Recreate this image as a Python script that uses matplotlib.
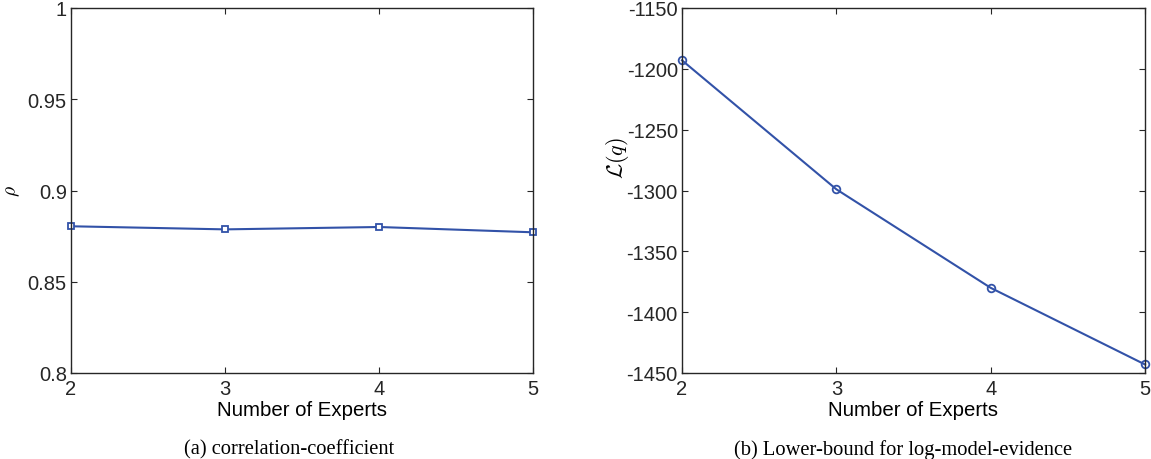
import matplotlib
matplotlib.use("Agg")
from matplotlib import pyplot as plt

experts = [2, 3, 4, 5]
rho = [0.8804, 0.8787, 0.8800, 0.8771]
lowerBound = [-1193, -1299, -1380, -1443]

rhoTicks = [0.8, 0.85, 0.9, 0.95, 1.0]
rhoTickLabels = ["0.8", "0.85", "0.9", "0.95", "1"]
lbTicks = [-1450, -1400, -1350, -1300, -1250, -1200, -1150]
lbTickLabels = ["-1450", "-1400", "-1350", "-1300", "-1250", "-1200", "-1150"]

LINE = "#3252a8"
TICKSIZE = 14.5

plt.rc('font', family='Liberation Sans')
plt.rc('mathtext', fontset='cm')

W, H = 1151, 460
fig = plt.figure(figsize=(W / 100, H / 100), dpi=100)


def styleAxes(ax):
    for s in ax.spines.values():
        s.set_linewidth(1.0)
        s.set_color("#262626")
    ax.tick_params(direction='in', top=True, right=True, length=4.5, width=0.8,
                   labelsize=TICKSIZE, colors="#262626")
    ax.tick_params(axis='x', pad=4.5)
    ax.tick_params(axis='y', pad=3)
    ax.set_xlim(2, 5)
    ax.set_xticks(experts)
    ax.set_xlabel("Number of Experts", fontsize=14.7, labelpad=1)


# (a) correlation coefficient
axA = fig.add_axes([71 / W, (H - 374) / H, 462 / W, 365 / H])
axA.plot(experts, rho, '-s', color=LINE, lw=1.5, markersize=5,
         markerfacecolor='white', markeredgewidth=1.3, clip_on=False)
styleAxes(axA)
axA.set_ylim(0.8, 1.0)
axA.set_yticks(rhoTicks)
axA.set_yticklabels(rhoTickLabels)
axA.set_ylabel(r"$\rho$", fontsize=14)
axA.yaxis.set_label_coords(-0.106, 0.5)

# (b) lower bound
axB = fig.add_axes([682 / W, (H - 374) / H, 463 / W, 365 / H])
axB.plot(experts, lowerBound, '-o', color=LINE, lw=1.5, markersize=5.5,
         markerfacecolor='none', markeredgewidth=1.3, clip_on=False)
styleAxes(axB)
axB.set_ylim(-1450, -1150)
axB.set_yticks(lbTicks)
axB.set_yticklabels(lbTickLabels)
axB.set_ylabel(r"$\mathcal{L}(q)$", fontsize=16)
axB.yaxis.set_label_coords(-0.11, 0.592)

fig.text(289.5 / W, 1 - 450 / H, "(a) correlation-coefficient", family='Liberation Serif',
         fontsize=14.8, ha='center', va='center')
fig.text(903 / W, 1 - 450 / H, "(b) Lower-bound for log-model-evidence", family='Liberation Serif',
         fontsize=14.8, ha='center', va='center')

plt.savefig("out.png", dpi=100)
